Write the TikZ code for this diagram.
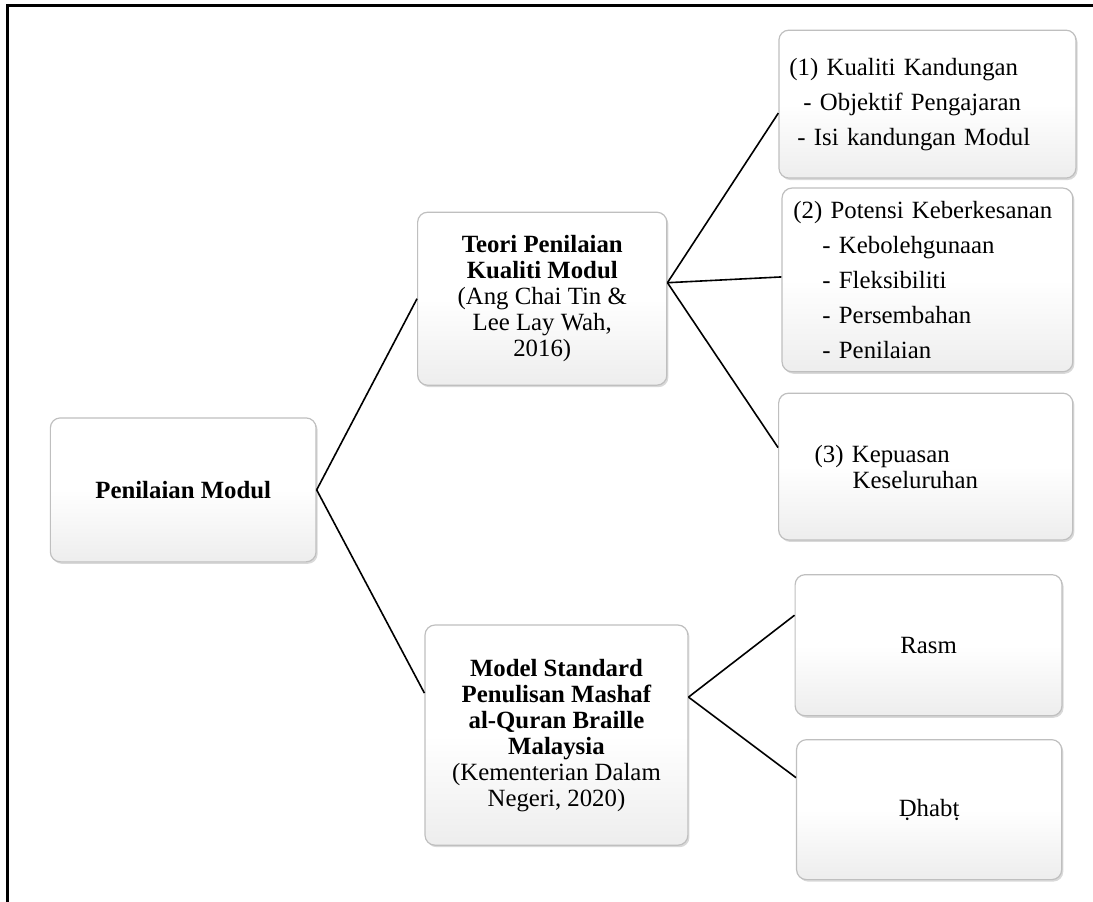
\documentclass[tikz,border=0pt]{standalone}
\usepackage{fontspec}
\setmainfont{Liberation Serif}
\usetikzlibrary{shadows}

\begin{document}
\begin{tikzpicture}[
    box/.style={rectangle,rounded corners=5pt,draw=gray!50,line width=0.6pt,
      top color=white,bottom color=gray!14,middle color=white,
      drop shadow={shadow xshift=0.8pt,shadow yshift=-1pt,opacity=0.3},
      font=\fontsize{12.4}{13}\selectfont,inner sep=2pt},
    listbox/.style={box,align=left,font=\fontsize{12.4}{17.5}\selectfont},
    link/.style={line width=0.8pt}
    ]

    \useasboundingbox (0,0) rectangle (19.21,-15.85);
    \draw [line width=1.5pt] (19.21,-0.09) -- (0.14,-0.09) -- (0.14,-15.85);

    \node (modul) at (3.22,-8.61) [box,minimum width=4.67cm,minimum height=2.53cm] {\textbf{Penilaian Modul}};
    \node (teori) at (9.53,-5.25) [box,minimum width=4.38cm,minimum height=3.04cm,align=center] {\textbf{Teori Penilaian}\\ \textbf{Kualiti Modul}\\ (Ang Chai Tin \&\\ Lee Lay Wah,\\ 2016)};
    \node (model) at (9.78,-12.92) [box,minimum width=4.62cm,minimum height=3.87cm,align=center] {\textbf{Model Standard}\\ \textbf{Penulisan Mashaf}\\ \textbf{al-Quran Braille}\\ \textbf{Malaysia}\\ (Kementerian Dalam\\ Negeri, 2020)};
    \node (k1) at (16.30,-1.83) [listbox,minimum width=5.22cm,minimum height=2.60cm,text width=138pt] {(1) Kualiti Kandungan\\ \hspace*{7pt}- Objektif Pengajaran\\ \hspace*{4pt}- Isi kandungan Modul};
    \node (k2) at (16.30,-4.92) [listbox,minimum width=5.11cm,minimum height=3.23cm,text width=134pt] {(2) Potensi Keberkesanan\\ \hspace*{14.5pt}- Kebolehgunaan\\ \hspace*{14.5pt}- Fleksibiliti\\ \hspace*{14.5pt}- Persembahan\\ \hspace*{14.5pt}- Penilaian};
    \node (k3) at (16.27,-8.20) [box,align=left,minimum width=5.17cm,minimum height=2.58cm,text width=111pt] {(3) Kepuasan\\ \hspace*{19pt}Keseluruhan};
    \node (rasm) at (16.32,-11.34) [box,minimum width=4.69cm,minimum height=2.48cm] {Rasm};
    \node (dhabt) at (16.33,-14.23) [box,minimum width=4.66cm,minimum height=2.46cm] {Ḍhabṭ};

    \draw [link] (modul.east) to (teori.west);
    \draw [link] (modul.east) to ([yshift=21pt]model.west);
    \draw [link] ([yshift=8pt]teori.east) to ([yshift=-4.5pt]k1.west);
    \draw [link] ([yshift=8pt]teori.east) to ([yshift=1.5pt]k2.west);
    \draw [link] ([yshift=8pt]teori.east) to ([yshift=9.5pt]k3.west);
    \draw [link] ([yshift=19pt]model.east) to ([yshift=15pt]rasm.west);
    \draw [link] ([yshift=19pt]model.east) to ([yshift=16pt]dhabt.west);

  \end{tikzpicture}
\end{document}
